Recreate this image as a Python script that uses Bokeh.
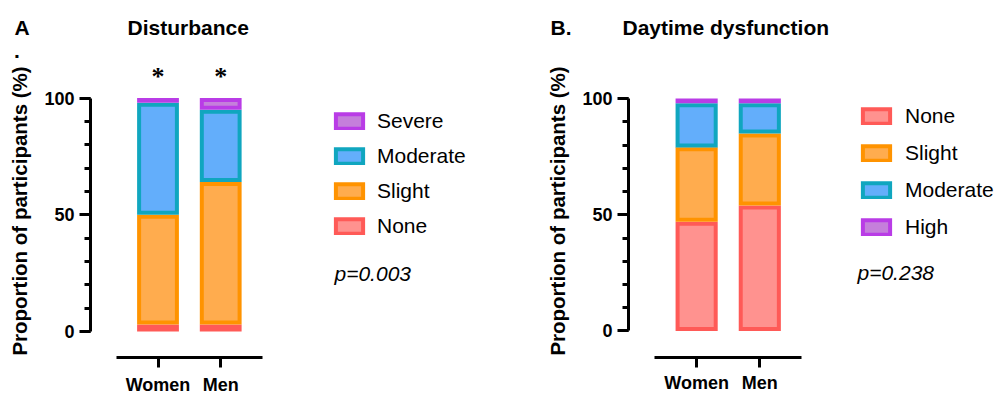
import numpy as np
from bokeh.plotting import figure
from bokeh.core.properties import value
from bokeh.models import (ColumnDataSource, Range1d, LinearAxis, FixedTicker,
                          SingleIntervalTicker, Legend, LegendItem, Label, LabelSet)
from bokeh.layouts import row, column
from bokeh.embed import file_html
from bokeh.resources import INLINE

# ---------------- data ----------------
groups = ["Women", "Men"]
group_x = [1, 2]

a_letter = "A"
a_title = "Disturbance"
a_levels = ["None", "Slight", "Moderate", "Severe"]          # bottom -> top
a_women = [3, 47, 48, 2]
a_men = [3, 61, 31, 5]
a_marks = ["*", "*"]
a_legend_order = ["Severe", "Moderate", "Slight", "None"]
a_p = "p=0.003"

b_letter = "B."
b_title = "Daytime dysfunction"
b_levels = ["None", "Slight", "Moderate", "High"]            # bottom -> top
b_women = [47, 32, 19, 2]
b_men = [54, 31, 13, 2]
b_marks = ["", ""]
b_legend_order = ["None", "Slight", "Moderate", "High"]
b_p = "p=0.238"

y_label = "Proportion of participants (%)"

border_colors = ["#FF5A57", "#FF9300", "#10A6BF", "#B93CE6"]
fill_colors = ["#FF928F", "#FFAC4E", "#63AEFB", "#C57FDB"]

FONT = "Liberation Sans"
TOTAL_W = 1003
TOTAL_H = 399
HEAD_H = 62
MAIN_H = TOTAL_H - HEAD_H
MB_TOP = 2

# ---------------- header strip (panel letters and titles) ----------------
head = figure(width=TOTAL_W, height=HEAD_H, x_range=Range1d(0, TOTAL_W),
              y_range=Range1d(HEAD_H, 0), output_backend="svg", toolbar_location=None,
              x_axis_type=None, y_axis_type=None,
              min_border_left=0, min_border_right=0, min_border_top=0, min_border_bottom=0)
head.outline_line_color = None
head_src = ColumnDataSource(dict(
    text=[a_letter, ".", a_title, b_letter, b_title],
    x=[14, 13.6, 127, 550, 622],
    y=[26.7, 50.5, 26.7, 26.7, 26.7],
))
head.text(x="x", y="y", text="text", source=head_src, text_font=value(FONT),
          text_font_size="21px", text_font_style="bold", text_color="black",
          text_baseline="alphabetic", text_align="left")


def make_panel(width, mb_left, mb_bottom, x_rng, y_rng,
               levels, women, men, marks, legend_order, legend_loc, legend_spacing,
               label_standoff, pval, p_loc, x_label_standoff):
    p = figure(width=width, height=MAIN_H, x_range=Range1d(*x_rng), y_range=Range1d(*y_rng),
               output_backend="svg", toolbar_location=None,
               x_axis_type=None, y_axis_type=None,
               min_border_left=mb_left, min_border_right=0,
               min_border_top=MB_TOP, min_border_bottom=mb_bottom)
    p.outline_line_color = None
    p.background_fill_color = "white"
    p.border_fill_color = "white"

    frame_w = width - mb_left
    frame_h = MAIN_H - MB_TOP - mb_bottom
    ppx = frame_w / (x_rng[1] - x_rng[0])
    ppy = frame_h / (y_rng[1] - y_rng[0])
    lw = 4
    pad_x = (lw / 2) / ppx
    pad_y = (lw / 2) / ppy
    bar_w = 2 / 3

    vals = np.array([women, men], dtype=float)
    tops = np.cumsum(vals, axis=1)
    bottoms = tops - vals

    renderers = {}
    for i, lev in enumerate(levels):
        src = ColumnDataSource(dict(x=group_x,
                                    top=tops[:, i] - pad_y,
                                    bottom=bottoms[:, i] + pad_y))
        r = p.vbar(x="x", top="top", bottom="bottom", width=bar_w - 2 * pad_x, source=src,
                   fill_color=fill_colors[i], line_color=border_colors[i],
                   line_width=lw, line_join="miter")
        renderers[lev] = r

    # axes
    yaxis = LinearAxis(ticker=SingleIntervalTicker(interval=50, num_minor_ticks=5),
                       bounds=(0, 100))
    yaxis.axis_label = y_label
    yaxis.axis_label_text_font = FONT
    yaxis.axis_label_text_font_size = "20.5px"
    yaxis.axis_label_text_font_style = "bold"
    yaxis.axis_label_text_color = "black"
    yaxis.axis_label_standoff = 10
    yaxis.major_label_text_font = FONT
    yaxis.major_label_text_font_size = "18px"
    yaxis.major_label_text_font_style = "bold"
    yaxis.major_label_text_color = "black"
    yaxis.major_label_standoff = 5
    yaxis.axis_line_width = 3
    yaxis.major_tick_line_width = 3
    yaxis.minor_tick_line_width = 3
    yaxis.major_tick_out = 11
    yaxis.major_tick_in = 0
    yaxis.minor_tick_out = 6
    yaxis.minor_tick_in = 0
    yaxis.axis_line_color = "black"
    yaxis.major_tick_line_color = "black"
    yaxis.minor_tick_line_color = "black"
    p.add_layout(yaxis, "left")

    xaxis = LinearAxis(ticker=FixedTicker(ticks=group_x, minor_ticks=[]),
                       bounds=(1 / 3, 8 / 3),
                       major_label_overrides={gx: g for gx, g in zip(group_x, groups)})
    xaxis.major_label_text_font = FONT
    xaxis.major_label_text_font_size = "18px"
    xaxis.major_label_text_font_style = "bold"
    xaxis.major_label_text_color = "black"
    xaxis.major_label_standoff = x_label_standoff
    xaxis.axis_line_width = 3
    xaxis.major_tick_line_width = 3
    xaxis.major_tick_out = 10
    xaxis.major_tick_in = 0
    xaxis.minor_tick_line_color = None
    xaxis.axis_line_color = "black"
    xaxis.major_tick_line_color = "black"
    p.add_layout(xaxis, "below")

    # legend
    items = [LegendItem(label=lev, renderers=[renderers[lev]]) for lev in legend_order]
    legend = Legend(items=items, location=legend_loc, glyph_width=34, glyph_height=18,
                    label_standoff=label_standoff, spacing=legend_spacing, padding=0, margin=0,
                    border_line_color=None, background_fill_alpha=0,
                    label_text_font=FONT, label_text_font_size="21px",
                    label_text_color="black")
    p.add_layout(legend)

    # significance marks
    msrc = ColumnDataSource(dict(x=group_x, text=marks))
    p.add_layout(LabelSet(x="x", y=105.5, text="text", source=msrc, text_align="center",
                          text_baseline="alphabetic", text_font=FONT,
                          text_font_size="26px", text_font_style="bold",
                          text_color="black"))

    # p value
    p.add_layout(Label(x=p_loc[0], y=p_loc[1], x_units="screen", y_units="screen",
                       text=pval, text_font=FONT, text_font_size="21px",
                       text_font_style="italic", text_color="black",
                       text_baseline="alphabetic"))
    return p


# panel A: frame x 90..543, y 64..357  (0 -> y331, 100 -> y97.5)
pA = make_panel(width=543, mb_left=90, mb_bottom=42,
                x_rng=(-0.0766, 7.148), y_rng=(-11.135, 114.35),
                levels=a_levels, women=a_women, men=a_men, marks=a_marks,
                legend_order=a_legend_order, legend_loc=(242, 119), legend_spacing=11,
                label_standoff=11, pval=a_p, p_loc=(244, 84), x_label_standoff=7)

# panel B: frame x 626..1003, y 64..359  (0 -> y332.3, 100 -> y98.3)
pB = make_panel(width=460, mb_left=83, mb_bottom=40,
                x_rng=(-0.0787, 5.858), y_rng=(-11.41, 114.66),
                levels=b_levels, women=b_women, men=b_men, marks=b_marks,
                legend_order=b_legend_order, legend_loc=(231, 118), legend_spacing=13,
                label_standoff=12, pval=b_p, p_loc=(229, 85), x_label_standoff=5)

layout = column(head, row(pA, pB))
open("out.html", "w").write(file_html(layout, INLINE))
